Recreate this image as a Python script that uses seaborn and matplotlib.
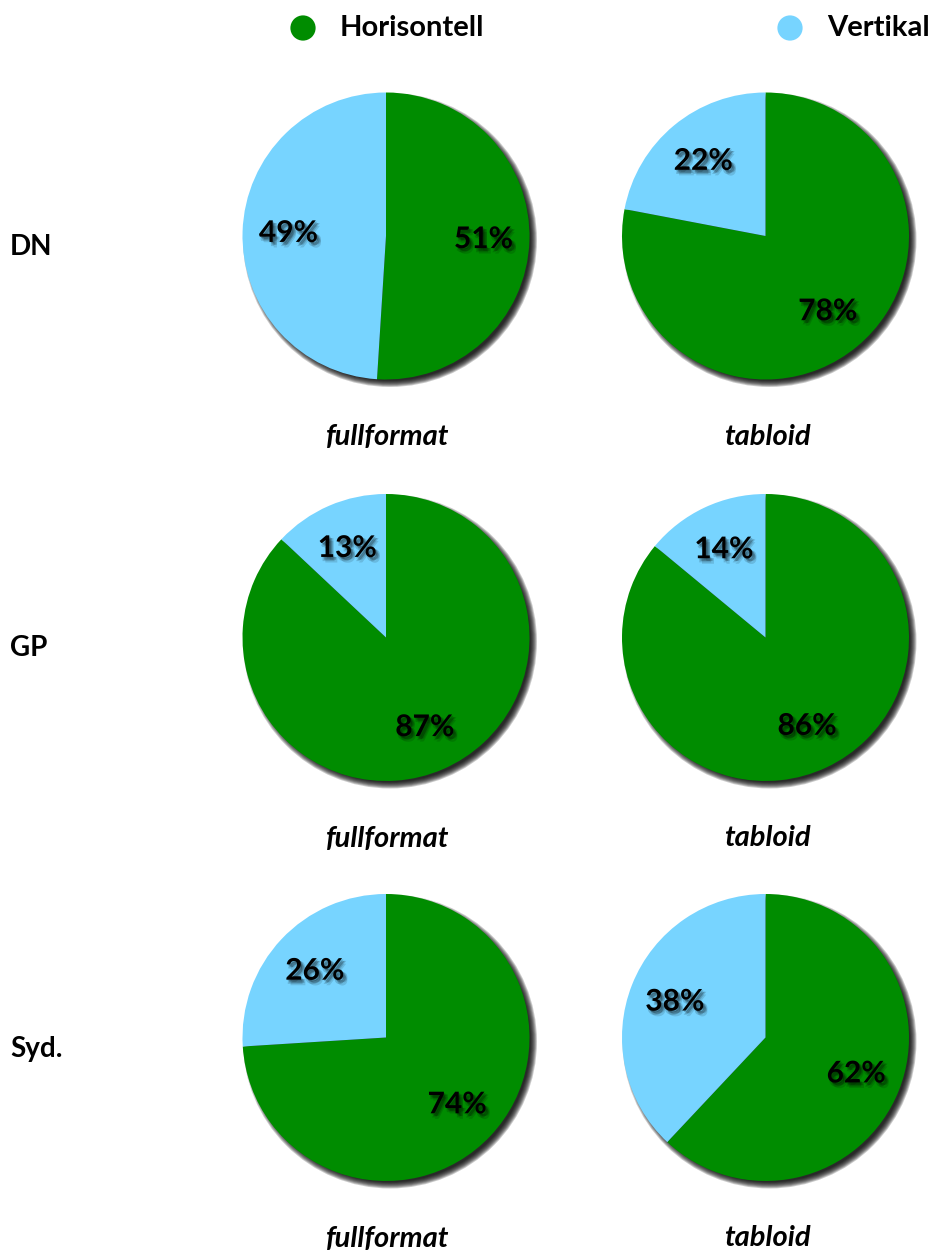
import matplotlib
matplotlib.use("Agg")
import matplotlib.pyplot as plt
import matplotlib.transforms as mtransforms
from matplotlib import patheffects as pe
from matplotlib.patches import Circle
import seaborn as sns

sns.set_theme(style="white")
plt.rcParams['font.family'] = ['Lato', 'DejaVu Sans']

series = ["Horisontell", "Vertikal"]
papers = ["DN", "GP", "Syd."]
formats = ["fullformat", "tabloid"]
horisontell = [[51, 78], [87, 86], [74, 62]]
vertikal = [[49, 22], [13, 14], [26, 38]]
palette = sns.color_palette(["#008C00", "#77D4FF"])

W, H = 935, 1251
fig = plt.figure(figsize=(W / 100, H / 100), dpi=100)
ax = fig.add_axes([0, 0, 1, 1])

col_x = [386, 765.5]
row_y = [236, 637.5, 1037.5]
R = 143.5

txt_fx = [
    pe.SimplePatchShadow(offset=(3, -4), shadow_rgbFace="black", alpha=0.12),
    pe.SimplePatchShadow(offset=(1, -3), shadow_rgbFace="black", alpha=0.15),
    pe.SimplePatchShadow(offset=(3, -2), shadow_rgbFace="black", alpha=0.15),
    pe.SimplePatchShadow(offset=(2, -2), shadow_rgbFace="black", alpha=0.2),
    pe.SimplePatchShadow(offset=(1, -1), shadow_rgbFace="black", alpha=0.2),
    pe.Normal(),
]

for i, paper in enumerate(papers):
    for j, fmt in enumerate(formats):
        cx, cy = col_x[j], H - row_y[i]
        # soft drop shadow
        tr = mtransforms.offset_copy(ax.transData, fig=fig, x=4, y=-4, units="dots")
        for k in range(8):
            ax.add_patch(Circle((cx, cy), R + 3.5 - k * 0.9, transform=tr,
                                facecolor="black", edgecolor="none", alpha=0.2, zorder=0.5))
        ax.pie([horisontell[i][j], vertikal[i][j]], colors=palette, startangle=90,
               counterclock=False, center=(cx, cy), radius=R,
               autopct=lambda p: f"{p:.0f}%", pctdistance=0.68,
               wedgeprops=dict(linewidth=0),
               textprops=dict(fontsize=21.5, fontweight="bold", color="black",
                              path_effects=txt_fx))
        ax.text(col_x[j] + 2, H - (row_y[i] + 201), fmt, ha="center", va="center",
                fontsize=21, fontweight="bold", fontstyle="italic", color="black")
    ax.text(10, H - (row_y[i] + 11), paper, ha="left", va="center",
            fontsize=20, fontweight="bold", color="black")

# legend
leg_x = [303, 790]
for s, name in enumerate(series):
    ax.scatter([leg_x[s]], [H - 28], s=330, color=palette[s], edgecolor="none", zorder=3)
    ax.text(leg_x[s] + 37, H - 28, name, ha="left", va="center",
            fontsize=21, fontweight="bold", color="black")

ax.set_xlim(0, W)
ax.set_ylim(0, H)
ax.set_aspect("equal")
ax.axis("off")
fig.savefig("out.png", dpi=100, facecolor="white")
